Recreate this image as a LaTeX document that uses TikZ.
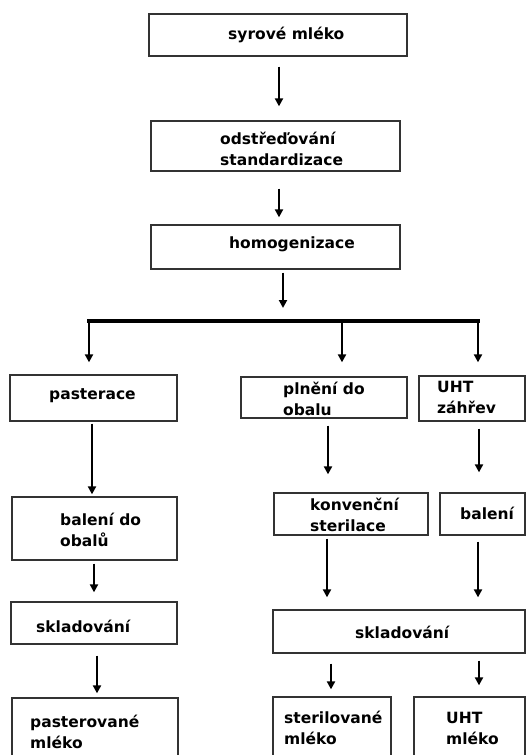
\documentclass[tikz,border=0pt]{standalone}
\usepackage{fontspec}
\setmainfont{DejaVu Sans}
\usepackage{tikz}
\usetikzlibrary{arrows.meta,positioning}

\begin{document}
\begin{tikzpicture}[x=1pt, y=-1pt,
  box/.style={draw=black!80, line width=1.3pt, inner sep=0pt},
  txt/.style={anchor=west, align=left, inner sep=0pt, font=\fontsize{15.5}{21}\selectfont\bfseries},
  arr/.style={-{Triangle[length=8pt,width=8pt]}, line width=2.2pt},
  bar/.style={line width=3.5pt, line cap=rect}]
\useasboundingbox (0,0) rectangle (528,755);
\node[box, minimum width=258pt, minimum height=42pt] (raw) at (278,35) {};
\node[box, minimum width=249pt, minimum height=50pt] (skim) at (275.5,146) {};
\node[box, minimum width=249pt, minimum height=44pt] (homog) at (275.5,247) {};
\node[box, minimum width=167pt, minimum height=46pt] (past) at (93.5,398) {};
\node[box, minimum width=166pt, minimum height=41pt] (fill) at (324,397.5) {};
\node[box, minimum width=106pt, minimum height=45pt] (uht) at (472,398.5) {};
\node[box, minimum width=165pt, minimum height=63pt] (pack1) at (94.5,528.5) {};
\node[box, minimum width=154pt, minimum height=42pt] (conv) at (351,514) {};
\node[box, minimum width=85pt, minimum height=42pt] (pack2) at (482.5,514) {};
\node[box, minimum width=166pt, minimum height=42pt] (store1) at (94,623) {};
\node[box, minimum width=252pt, minimum height=43pt] (store2) at (399,631.5) {};
\node[box, minimum width=166pt, minimum height=64pt] (prod1) at (95,730) {};
\node[box, minimum width=118pt, minimum height=65pt] (prod2) at (332,729.5) {};
\node[box, minimum width=111pt, minimum height=65pt] (prod3) at (469.5,729.5) {};
\node[txt] (raw-t) at (228,35) {syrové mléko};
\node[txt] (skim-t) at (220,149) {odstřeďování\\standardizace};
\node[txt] (homog-t) at (229,244) {homogenizace};
\node[txt] (past-t) at (49,396) {pasterace};
\node[txt] (fill-t) at (283,399) {plnění do\\obalu};
\node[txt] (uht-t) at (437,397) {UHT\\záhřev};
\node[txt] (pack1-t) at (60,530) {balení do\\obalů};
\node[txt] (conv-t) at (310,515) {konvenční\\sterilace};
\node[txt] (pack2-t) at (460,513) {balení};
\node[txt] (store1-t) at (36,626) {skladování};
\node[txt] (store2-t) at (355,632) {skladování};
\node[txt] (prod1-t) at (30,732) {pasterované\\mléko};
\node[txt] (prod2-t) at (284,728) {sterilované\\mléko};
\node[txt] (prod3-t) at (446,728) {UHT\\mléko};
\coordinate (bl) at (89,321);
\coordinate (bm) at (342,321);
\coordinate (br) at (478,321);
\draw[arr, shorten <=10pt, shorten >=14pt] ([xshift=1pt]raw.south) -- ([xshift=1pt]raw.south |- skim.north);
\draw[arr, shorten <=17pt, shorten >=7pt] ([xshift=3.5pt]skim.south) -- ([xshift=3.5pt]skim.south |- homog.north);
\draw[arr, shorten <=3pt, shorten >=13pt] ([xshift=7.5pt]homog.south) -- ([xshift=7.5pt]homog.south |- bm);
\draw[bar] (bl) -- (br);
\draw[arr, shorten >=12pt] (bl) -- (bl |- past.north);
\draw[arr, shorten >=14pt] (bm) -- (bm |- fill.north);
\draw[arr, shorten >=13pt] (br) -- (br |- uht.north);
\draw[arr, shorten <=2pt, shorten >=2pt] ([xshift=-1.5pt]past.south) -- ([xshift=-1.5pt]past.south |- pack1.north);
\draw[arr, shorten <=7pt, shorten >=18pt] ([xshift=4pt]fill.south) -- ([xshift=4pt]fill.south |- conv.north);
\draw[arr, shorten <=7pt, shorten >=20pt] ([xshift=7pt]uht.south) -- ([xshift=7pt]uht.south |- pack2.north);
\draw[arr, shorten <=3pt, shorten >=9pt] ([xshift=-0.5pt]pack1.south) -- ([xshift=-0.5pt]pack1.south |- store1.north);
\draw[arr, shorten <=11pt, shorten >=4pt] ([xshift=3pt]store1.south) -- ([xshift=3pt]store1.south |- prod1.north);
\draw[arr, shorten <=3pt, shorten >=12pt] ([xshift=-24pt]conv.south) -- ([xshift=-24pt]conv.south |- store2.north);
\draw[arr, shorten <=6pt, shorten >=12pt] ([xshift=-4.5pt]pack2.south) -- ([xshift=-4.5pt]pack2.south |- store2.north);
\draw[arr, shorten <=10pt, shorten >=7pt] ([xshift=-68pt]store2.south) -- ([xshift=-68pt]store2.south |- prod2.north);
\draw[arr, shorten <=7pt, shorten >=11pt] ([xshift=80pt]store2.south) -- ([xshift=80pt]store2.south |- prod3.north);
\end{tikzpicture}
\end{document}
